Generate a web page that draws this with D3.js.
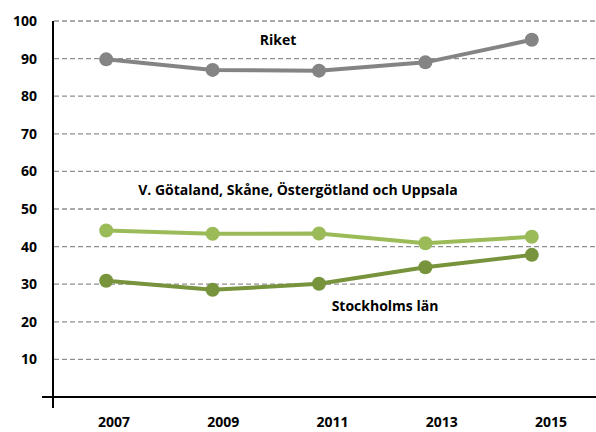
<!DOCTYPE html>
<html>
<head>
<meta charset="utf-8">
<script src="https://cdn.jsdelivr.net/npm/d3@7"></script>
<style>
  body { margin: 0; background: #fff; }
  text { font-family: "Open Sans", sans-serif; font-weight: bold; fill: #000; }
</style>
</head>
<body>
<script>
"use strict";

// data
var years = ["2007", "2009", "2011", "2013", "2015"];
var riket = [89.8, 87.0, 86.8, 89.0, 95.0];
var vgotaland = [44.3, 43.4, 43.5, 40.9, 42.6];
var stockholm = [30.9, 28.5, 30.1, 34.5, 37.8];
var yTicks = [10, 20, 30, 40, 50, 60, 70, 80, 90, 100];

var series = [
    { name: "Riket", values: riket, color: "#848484", lx: 278, ly: 100 * 0 + 45 },
    { name: "V. Götaland, Skåne, Östergötland och Uppsala", values: vgotaland, color: "#9bbb59", lx: 298, ly: 195 },
    { name: "Stockholms län", values: stockholm, color: "#77933c", lx: 385, ly: 311 }
];

var width = 596, height = 432;
var svg = d3.select("body").append("svg")
    .attr("width", width)
    .attr("height", height);

var x = d3.scaleBand().domain(years).range([53, 585]);
var xLabel = d3.scalePoint().domain(years).range([114, 551]);
var y = d3.scaleLinear().domain([0, 100]).range([397, 21]);

// gridlines
svg.append("g").selectAll("line")
    .data(yTicks)
    .enter().append("line")
    .attr("x1", 54).attr("x2", 596)
    .attr("y1", d => y(d)).attr("y2", d => y(d))
    .attr("stroke", "#8f8f8f")
    .attr("stroke-width", 1.3)
    .attr("stroke-dasharray", "5,3");

// y axis labels
svg.append("g").selectAll("text")
    .data(yTicks)
    .enter().append("text")
    .attr("x", 37)
    .attr("y", d => y(d))
    .attr("dy", "0.36em")
    .attr("text-anchor", "end")
    .style("font-size", "14px")
    .text(d => d);

// axes
svg.append("line")
    .attr("x1", 53).attr("x2", 53)
    .attr("y1", y(100)).attr("y2", 408)
    .attr("stroke", "#000").attr("stroke-width", 2);
svg.append("line")
    .attr("x1", 42).attr("x2", 596)
    .attr("y1", y(0)).attr("y2", y(0))
    .attr("stroke", "#000").attr("stroke-width", 2);

// x labels
svg.append("g").selectAll("text")
    .data(years)
    .enter().append("text")
    .attr("x", d => xLabel(d))
    .attr("y", 427)
    .attr("text-anchor", "middle")
    .style("font-size", "14px")
    .text(d => d);

var line = d3.line()
    .x((d, i) => x(years[i]) + x.bandwidth() / 2)
    .y(d => y(d));

series.forEach(function(s) {
    var g = svg.append("g");
    g.append("path")
        .datum(s.values)
        .attr("d", line)
        .attr("fill", "none")
        .attr("stroke", s.color)
        .attr("stroke-width", 4);
    g.selectAll("circle")
        .data(s.values)
        .enter().append("circle")
        .attr("cx", (d, i) => x(years[i]) + x.bandwidth() / 2)
        .attr("cy", d => y(d))
        .attr("r", 7)
        .attr("fill", s.color);
    svg.append("text")
        .attr("x", s.lx)
        .attr("y", s.ly)
        .attr("text-anchor", "middle")
        .style("font-size", "14px")
        .text(s.name);
});
</script>
</body>
</html>
